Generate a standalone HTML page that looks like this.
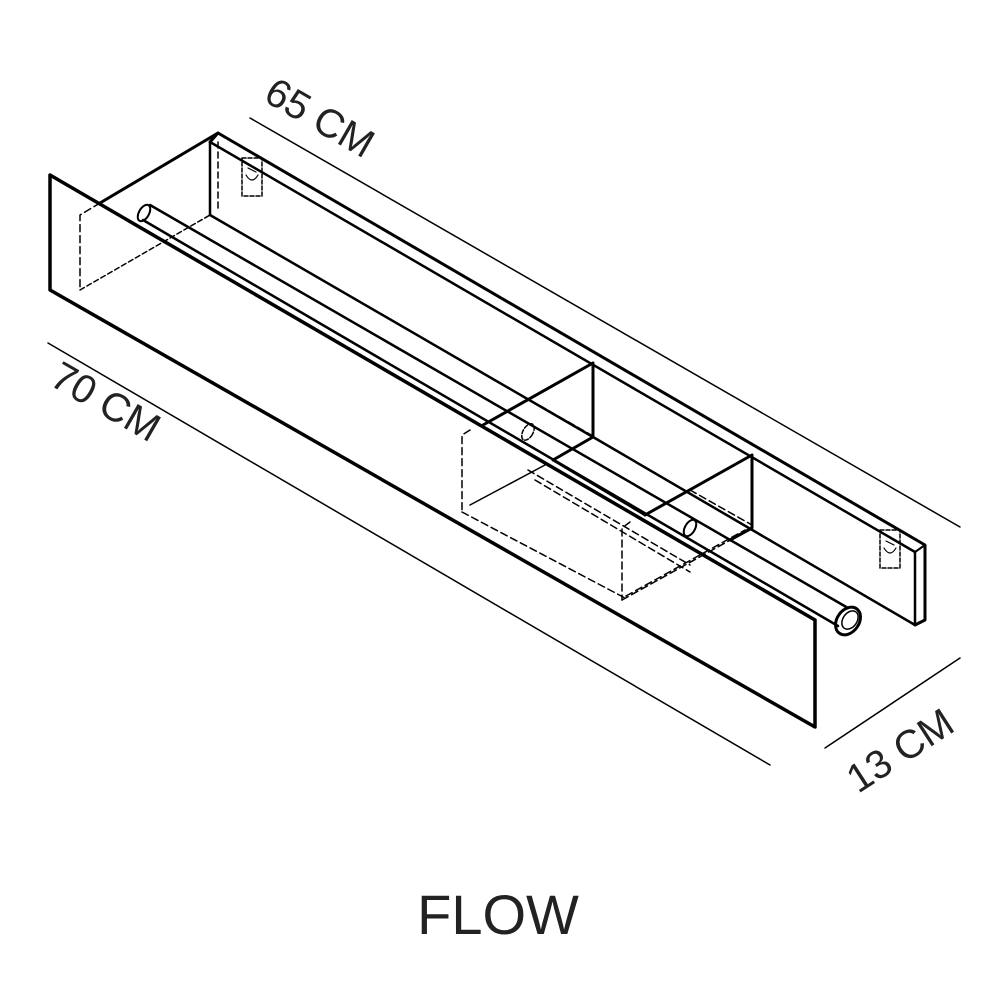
<!DOCTYPE html>
<html><head><style>
html,body{margin:0;padding:0;background:#fff;width:1000px;height:1000px;overflow:hidden}
svg{display:block}
text{font-family:"Liberation Sans",sans-serif;fill:#222}
</style></head><body>
<svg width="1000" height="1000" viewBox="0 0 1000 1000" xmlns="http://www.w3.org/2000/svg">
<g stroke="#000" fill="none" stroke-linecap="round" stroke-linejoin="round">
<!-- dimension lines -->
<line x1="250" y1="118" x2="960" y2="527" stroke-width="1.5"/>
<line x1="48" y1="343" x2="770" y2="765" stroke-width="1.5"/>
<line x1="825" y1="748" x2="960" y2="658" stroke-width="1.5"/>

<!-- back panel -->
<polyline points="210,142 218,133 925,545 925,620 915,625" stroke-width="3"/>
<line x1="210" y1="142" x2="915" y2="552" stroke-width="2.5"/>
<line x1="915" y1="552" x2="915" y2="625" stroke-width="2.5"/>
<line x1="915" y1="552" x2="925" y2="545" stroke-width="2"/>
<line x1="210" y1="142" x2="210" y2="215" stroke-width="2.5"/>
<line x1="218" y1="142" x2="218" y2="212" stroke-width="1.5" stroke-dasharray="6,4"/>
<line x1="210" y1="215" x2="593" y2="437" stroke-width="2.5"/>
<line x1="593" y1="437" x2="915" y2="625" stroke-width="2.5"/>
<!-- brackets -->
<g stroke-width="1.5" stroke-dasharray="4,2">
<rect x="242" y="158" width="20" height="38"/>
<rect x="880" y="530" width="20" height="38"/>
</g>
<g stroke-width="1.2">
<path d="M246,175 q6,10 12,0 M248,168 l8,4"/>
<path d="M884,548 q6,10 12,0 M886,541 l8,4"/>
</g>

<!-- left end panel -->
<line x1="218" y1="133" x2="100" y2="203" stroke-width="3"/>
<polyline points="100,203 80,215 80,290" stroke-width="1.5" stroke-dasharray="7,4"/>
<line x1="80" y1="290" x2="210" y2="215" stroke-width="1.5" stroke-dasharray="5,3"/>

<!-- rod -->
<line x1="150" y1="205" x2="848" y2="608" stroke-width="2.5"/>
<line x1="143" y1="220" x2="838" y2="626" stroke-width="2.5"/>
<ellipse cx="144" cy="213" rx="5" ry="9" transform="rotate(30 144 213)" stroke-width="2"/>
<ellipse cx="848" cy="621" rx="11" ry="15" transform="rotate(35 848 621)" stroke-width="3"/>
<ellipse cx="850" cy="620" rx="7" ry="10" transform="rotate(35 850 620)" stroke-width="1.5"/>

<!-- dividers -->
<polyline points="483,425 593,363 593,437 553,460" stroke-width="3"/>
<line x1="553" y1="460" x2="645" y2="515" stroke-width="2.5"/>
<polyline points="645,515 752,455 752,528 730,540" stroke-width="3"/>
<g stroke-width="1.5" stroke-dasharray="7,4">
<polyline points="470,430 462,435 462,512"/>
<line x1="462" y1="512" x2="625" y2="598"/>
<line x1="528" y1="470" x2="690" y2="565"/>
<line x1="535" y1="480" x2="690" y2="572"/>
<line x1="530" y1="400" x2="593" y2="436"/>
<polyline points="630,522 622,528 622,600"/>
<line x1="622" y1="600" x2="752" y2="528"/>
<line x1="626" y1="596" x2="745" y2="530"/>
<line x1="690" y1="490" x2="752" y2="525"/>
</g>
<line x1="470" y1="505" x2="545" y2="465" stroke-width="1.5"/>
<ellipse cx="528" cy="432" rx="5" ry="9" transform="rotate(30 528 432)" stroke-width="1.5" stroke-dasharray="4,2"/>
<ellipse cx="690" cy="528" rx="5" ry="9" transform="rotate(30 690 528)" stroke-width="2"/>

<!-- front panel -->
<polyline points="815,620 815,727 50,290 50,175 815,620" stroke-width="3.5"/>
</g>

<text x="0" y="0" font-size="40" transform="translate(262,100) rotate(30)">65 CM</text>
<text x="0" y="0" font-size="40" transform="translate(48,384) rotate(30)">70 CM</text>
<text x="0" y="0" font-size="40" transform="translate(858,794) rotate(-33)">13 CM</text>
<text x="498" y="934" font-size="56" text-anchor="middle">FLOW</text>
</svg>
</body></html>
